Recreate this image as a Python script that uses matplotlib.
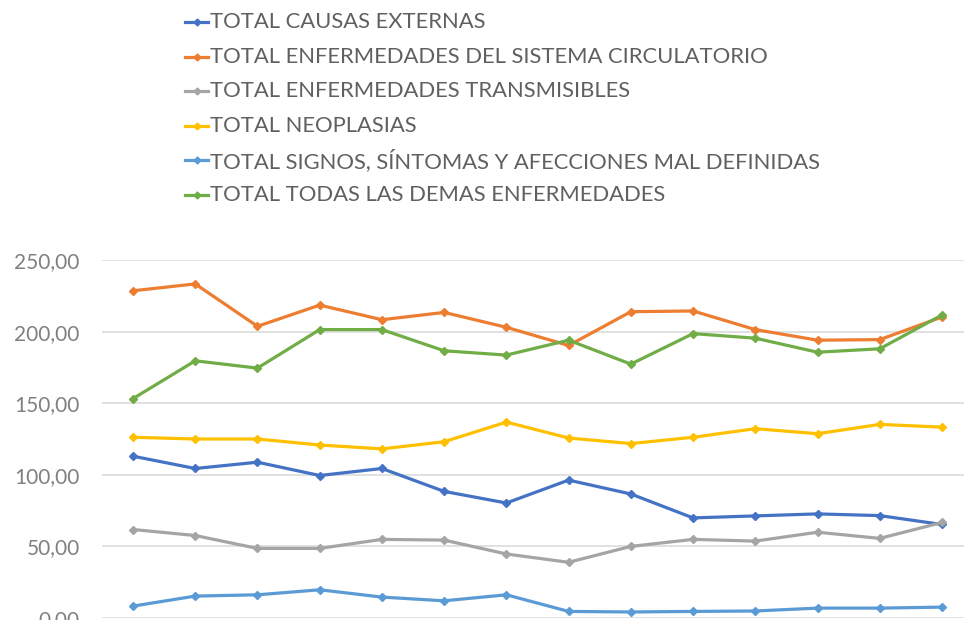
import matplotlib
matplotlib.use("Agg")
import matplotlib.pyplot as plt
from matplotlib.lines import Line2D

categories = list(range(1, 15))
series_names = [
    "TOTAL CAUSAS EXTERNAS",
    "TOTAL ENFERMEDADES DEL SISTEMA CIRCULATORIO",
    "TOTAL ENFERMEDADES TRANSMISIBLES",
    "TOTAL NEOPLASIAS",
    "TOTAL SIGNOS, SÍNTOMAS Y AFECCIONES MAL DEFINIDAS",
    "TOTAL TODAS LAS DEMAS ENFERMEDADES",
]
causas_externas = [113.0, 104.4, 108.8, 99.5, 104.4, 88.4, 80.3, 96.3, 86.6, 69.9, 71.3, 72.7, 71.5, 65.3]
circulatorio = [228.5, 233.3, 203.7, 218.5, 208.3, 213.4, 203.0, 190.3, 213.9, 214.4, 201.4, 194.0, 194.4, 210.2]
transmisibles = [61.8, 57.6, 48.6, 48.6, 54.9, 54.4, 44.7, 38.9, 50.0, 54.9, 53.7, 59.9, 55.6, 66.7]
neoplasias = [126.2, 125.0, 125.0, 120.8, 118.1, 123.1, 136.8, 125.7, 121.8, 126.2, 132.2, 128.7, 135.2, 133.3]
signos = [8.3, 15.3, 16.2, 19.7, 14.6, 12.0, 16.2, 4.6, 4.2, 4.6, 4.9, 6.9, 6.9, 7.6]
demas = [153.2, 179.6, 174.5, 201.4, 201.4, 186.6, 183.6, 194.0, 177.3, 198.6, 195.4, 185.6, 188.0, 211.6]
series_values = [causas_externas, circulatorio, transmisibles, neoplasias, signos, demas]
colors = ["#4472C4", "#ED7D31", "#A5A5A5", "#FFC000", "#5B9BD5", "#70AD47"]
y_ticks = [0, 50, 100, 150, 200, 250]
y_tick_labels = ["0,00", "50,00", "100,00", "150,00", "200,00", "250,00"]

plt.rcParams['font.family'] = ['Lato', 'DejaVu Sans']
W, H = 964, 620
fig = plt.figure(figsize=(W / 100, H / 100), dpi=100)

# axes: x from -0.5..13.5 ; first point at px 133, last at 942
ppu = (942 - 133) / 13.0
left_px = 133 - 0.5 * ppu
right_px = 942 + 0.5 * ppu
bottom_px = 618
top_px = 260
ax = fig.add_axes([left_px / W, (H - bottom_px) / H, (right_px - left_px) / W, (bottom_px - top_px) / H])

x = list(range(len(categories)))
for vals, c in zip(series_values, colors):
    ax.plot(x, vals, color=c, lw=2.3, marker='D', ms=4.5, zorder=3,
            solid_joinstyle='round')

ax.set_xlim(-0.5, len(categories) - 0.5)
ax.set_ylim(0, 250)
ax.set_yticks(y_ticks)
ax.set_yticklabels(y_tick_labels, fontsize=15, color='#808080')
ax.tick_params(axis='y', length=0, pad=16)
ax.set_xticks([])
ax.grid(axis='y', color='#d9d9d9', lw=1.1, zorder=0)
for s in ax.spines.values():
    s.set_visible(False)

# manual legend
for i, (name, c) in enumerate(zip(series_names, colors)):
    yc = 1 - (22 + 34.6 * i) / H
    fig.add_artist(Line2D([185 / W, 208 / W], [yc, yc], color=c, lw=2.3,
                          transform=fig.transFigure))
    fig.add_artist(Line2D([196.5 / W], [yc], color=c, marker='D', ms=3.5,
                          transform=fig.transFigure))
    fig.text(210 / W, yc, name, fontsize=15.8, color='#606060',
             va='center', ha='left')

fig.savefig("out.png", dpi=100)
